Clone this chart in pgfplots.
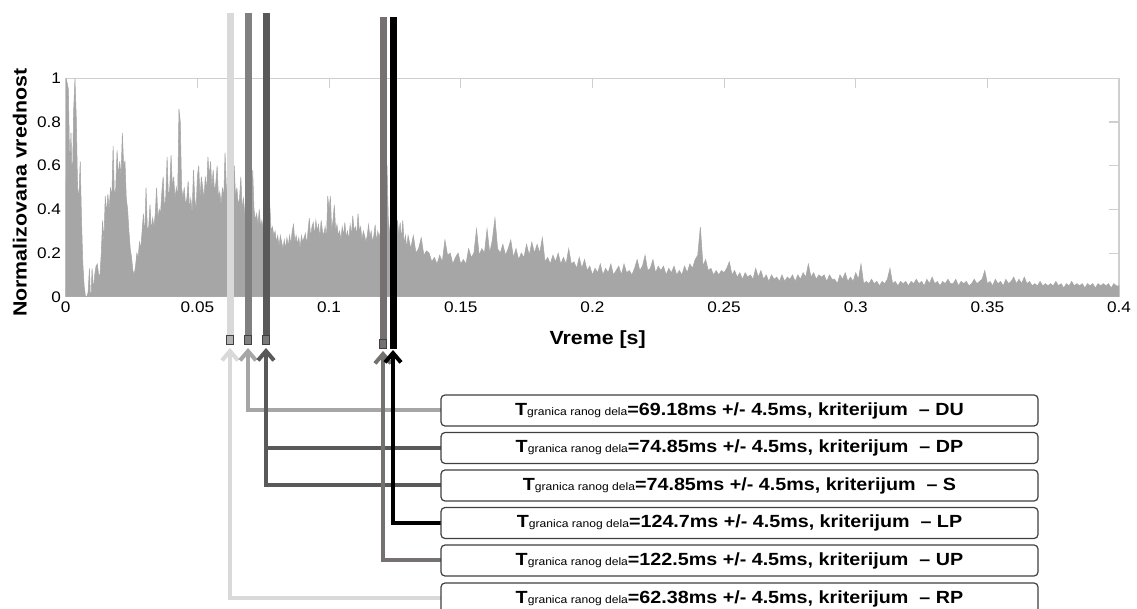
\documentclass[border=0pt]{standalone}
\usepackage{fontspec}
\setmainfont{Liberation Sans}[FakeStretch=1.12]
\usepackage{pgfplots}
\pgfplotsset{compat=1.18}
\usetikzlibrary{arrows.meta}
\definecolor{sig}{HTML}{A6A6A6}
\definecolor{frame}{HTML}{CFCFCF}
\definecolor{RPc}{HTML}{D9D9D9}
\definecolor{DUtop}{HTML}{808080}
\definecolor{DUc}{HTML}{A6A6A6}
\definecolor{DPc}{HTML}{595959}
\definecolor{UPc}{HTML}{767171}
\definecolor{boxc}{HTML}{404040}
\newcommand{\bt}[2]{{\bfseries\fontsize{13.2}{15}\selectfont T{\mdseries\fontsize{8.1}{9}\selectfont granica ranog dela}=#1ms +/- 4.5ms, kriterijum\ \ – #2}}
\begin{document}
\begin{tikzpicture}
\path[use as bounding box] (0,0) rectangle (852.75pt,456.75pt);
\begin{axis}[
  at={(49.3pt,234.2pt)}, anchor=south west,
  scale only axis, width=790pt, height=163.8pt,
  xmin=0, xmax=0.4, ymin=0, ymax=1,
  axis line style={draw=frame, line width=1pt},
  xtick={0,0.05,0.1,0.15,0.2,0.25,0.3,0.35,0.4},
  xticklabels={0,0.05,0.1,0.15,0.2,0.25,0.3,0.35,0.4},
  ytick={0,0.2,0.4,0.6,0.8,1},
  yticklabels={0,0.2,0.4,0.6,0.8,1},
  xtick pos=top, ytick pos=right,
  xticklabel pos=bottom, yticklabel pos=left,
  tick align=inside, major tick length=7.5pt,
  major tick style={draw=frame, line width=0.8pt},
  tick label style={font=\fontsize{11.5}{13}\selectfont},
  /pgf/number format/assume math mode=true,
  xlabel={Vreme [s]},
  ylabel={Normalizovana vrednost},
  label style={font=\bfseries\fontsize{14.3}{16}\selectfont},
  xlabel style={at={(axis description cs:0.505,-0.197)}, anchor=center},
  ylabel style={at={(axis description cs:-0.0437,0.476)}, anchor=center},
]
\addplot[draw=sig, fill=sig, line width=0.4pt] table {
x y
0 0
0.0002 1.0
0.001 0.95
0.0015 0.6
0.002 0.75
0.0025 0.5
0.003 0.85
0.0035 1.0
0.004 0.82
0.0045 0.5
0.005 0.45
0.0055 0.62
0.006 0.35
0.0065 0.15
0.007 0.05
0.0075 0.0
0.008 0.0
0.0085 0.02
0.009 0.13
0.0093 0.02
0.0097 0.02
0.010 0.13
0.0105 0.03
0.011 0.1
0.0115 0.14
0.012 0.15
0.0125 0.1
0.013 0.1
0.0135 0.2
0.014 0.35
0.0145 0.25
0.015 0.46
0.0155 0.38
0.016 0.47
0.0165 0.4
0.017 0.5
0.0175 0.45
0.018 0.69
0.0185 0.45
0.019 0.5
0.0195 0.67
0.020 0.55
0.0205 0.62
0.021 0.55
0.0215 0.75
0.022 0.6
0.0225 0.62
0.023 0.45
0.0235 0.4
0.024 0.3
0.0245 0.22
0.025 0.18
0.0255 0.12
0.026 0.1
0.0265 0.14
0.027 0.2
0.0275 0.18
0.028 0.25
0.0285 0.22
0.029 0.3
0.0295 0.38
0.030 0.28
0.0305 0.5
0.031 0.3
0.0315 0.32
0.032 0.42
0.0325 0.3
0.033 0.36
0.0335 0.32
0.034 0.38
0.0345 0.5
0.035 0.36
0.0355 0.4
0.036 0.38
0.0365 0.48
0.037 0.55
0.0375 0.4
0.038 0.46
0.0385 0.64
0.039 0.45
0.0395 0.5
0.040 0.65
0.0405 0.5
0.041 0.55
0.0415 0.45
0.042 0.5
0.0425 0.45
0.043 0.86
0.0435 0.8
0.044 0.5
0.0445 0.45
0.045 0.5
0.0455 0.42
0.046 0.45
0.0465 0.53
0.047 0.4
0.0475 0.45
0.048 0.38
0.0485 0.58
0.049 0.45
0.0495 0.4
0.050 0.55
0.0505 0.6
0.051 0.45
0.0515 0.55
0.052 0.5
0.0525 0.45
0.053 0.55
0.0535 0.48
0.054 0.64
0.0545 0.55
0.055 0.62
0.0555 0.5
0.056 0.58
0.0565 0.48
0.057 0.52
0.0575 0.6
0.058 0.45
0.0585 0.48
0.059 0.42
0.0595 0.5
0.060 0.45
0.0605 0.66
0.061 0.5
0.0615 0.45
0.062 0.55
0.0625 0.45
0.063 0.6
0.0635 0.47
0.064 0.6
0.0645 0.45
0.065 0.5
0.0655 0.42
0.066 0.45
0.0665 0.55
0.067 0.4
0.0675 0.45
0.068 0.38
0.0685 0.4
0.069 0.35
0.0695 0.5
0.070 0.38
0.0705 0.4
0.071 0.58
0.0715 0.4
0.072 0.35
0.0725 0.38
0.073 0.33
0.0735 0.4
0.074 0.32
0.0745 0.35
0.075 0.3
0.0755 0.38
0.076 0.3
0.0765 0.35
0.077 0.3
0.0775 0.42
0.078 0.3
0.0785 0.32
0.079 0.28
0.0795 0.3
0.080 0.25
0.0805 0.28
0.081 0.23
0.0815 0.28
0.082 0.25
0.0825 0.22
0.083 0.26
0.0835 0.22
0.084 0.27
0.0845 0.23
0.085 0.28
0.0855 0.24
0.086 0.3
0.0865 0.33
0.087 0.25
0.0875 0.28
0.088 0.24
0.0885 0.27
0.089 0.22
0.0895 0.28
0.090 0.25
0.0905 0.27
0.091 0.29
0.0915 0.24
0.092 0.3
0.0925 0.36
0.093 0.27
0.0935 0.32
0.094 0.34
0.0945 0.28
0.095 0.35
0.0955 0.3
0.096 0.33
0.0965 0.27
0.097 0.35
0.0975 0.3
0.098 0.28
0.0985 0.32
0.099 0.26
0.0995 0.46
0.100 0.4
0.1005 0.46
0.101 0.3
0.1015 0.35
0.102 0.42
0.1025 0.3
0.103 0.33
0.1035 0.28
0.104 0.3
0.1045 0.26
0.105 0.32
0.1055 0.28
0.106 0.34
0.1065 0.27
0.107 0.3
0.1075 0.26
0.108 0.33
0.1085 0.28
0.109 0.37
0.1095 0.3
0.110 0.32
0.1105 0.28
0.111 0.38
0.1115 0.3
0.112 0.32
0.1125 0.26
0.113 0.3
0.1135 0.28
0.114 0.25
0.1145 0.28
0.115 0.33
0.1155 0.27
0.116 0.3
0.1165 0.25
0.117 0.28
0.1175 0.33
0.118 0.25
0.1185 0.3
0.119 0.27
0.1195 0.3
0.120 0.26
0.1205 0.32
0.121 0.27
0.1215 0.3
0.122 0.6
0.1225 0.35
0.123 0.3
0.1235 0.28
0.124 0.3
0.1245 0.25
0.125 0.32
0.1255 0.27
0.126 0.35
0.1265 0.28
0.127 0.34
0.1275 0.26
0.128 0.35
0.1285 0.24
0.129 0.28
0.1295 0.22
0.130 0.28
0.131 0.22
0.132 0.28
0.133 0.2
0.134 0.22
0.135 0.27
0.136 0.19
0.137 0.21
0.138 0.2
0.139 0.16
0.140 0.18
0.141 0.15
0.142 0.19
0.143 0.16
0.144 0.26
0.145 0.19
0.146 0.2
0.147 0.15
0.148 0.18
0.149 0.2
0.150 0.15
0.151 0.17
0.152 0.15
0.153 0.22
0.154 0.18
0.155 0.2
0.156 0.31
0.157 0.19
0.158 0.22
0.159 0.2
0.160 0.31
0.161 0.2
0.162 0.26
0.163 0.36
0.164 0.22
0.165 0.2
0.166 0.24
0.167 0.19
0.168 0.22
0.169 0.26
0.170 0.18
0.171 0.22
0.172 0.17
0.173 0.2
0.174 0.18
0.175 0.24
0.176 0.19
0.177 0.25
0.178 0.2
0.179 0.24
0.180 0.2
0.181 0.27
0.182 0.16
0.183 0.18
0.184 0.15
0.185 0.19
0.186 0.16
0.187 0.2
0.188 0.15
0.189 0.18
0.190 0.15
0.191 0.22
0.192 0.15
0.193 0.16
0.194 0.13
0.195 0.18
0.196 0.13
0.197 0.17
0.198 0.12
0.199 0.14
0.200 0.1
0.201 0.13
0.202 0.11
0.203 0.15
0.204 0.1
0.205 0.13
0.206 0.11
0.207 0.15
0.208 0.1
0.209 0.12
0.210 0.14
0.211 0.1
0.212 0.15
0.213 0.11
0.214 0.12
0.215 0.1
0.216 0.13
0.217 0.17
0.218 0.12
0.219 0.14
0.220 0.19
0.221 0.12
0.222 0.13
0.223 0.17
0.224 0.11
0.225 0.14
0.226 0.12
0.227 0.14
0.228 0.1
0.229 0.13
0.230 0.11
0.231 0.14
0.232 0.1
0.233 0.12
0.234 0.1
0.235 0.14
0.236 0.11
0.237 0.15
0.238 0.13
0.239 0.17
0.240 0.19
0.241 0.32
0.242 0.14
0.243 0.17
0.244 0.12
0.245 0.13
0.246 0.1
0.247 0.12
0.248 0.1
0.249 0.12
0.250 0.11
0.251 0.13
0.252 0.16
0.253 0.1
0.254 0.12
0.255 0.09
0.256 0.11
0.257 0.08
0.258 0.11
0.259 0.09
0.260 0.1
0.261 0.08
0.262 0.13
0.263 0.09
0.264 0.12
0.265 0.08
0.266 0.1
0.267 0.07
0.268 0.1
0.269 0.08
0.270 0.09
0.271 0.07
0.272 0.1
0.273 0.07
0.274 0.09
0.275 0.08
0.276 0.1
0.277 0.07
0.278 0.1
0.279 0.08
0.280 0.11
0.281 0.09
0.282 0.15
0.283 0.09
0.284 0.11
0.285 0.08
0.286 0.1
0.287 0.09
0.288 0.1
0.289 0.07
0.290 0.1
0.291 0.08
0.292 0.08
0.293 0.06
0.294 0.1
0.295 0.08
0.296 0.11
0.297 0.07
0.298 0.09
0.299 0.07
0.300 0.11
0.301 0.08
0.302 0.15
0.303 0.06
0.304 0.07
0.305 0.06
0.306 0.08
0.307 0.06
0.308 0.07
0.309 0.05
0.310 0.07
0.311 0.06
0.312 0.08
0.313 0.13
0.314 0.06
0.315 0.07
0.316 0.05
0.317 0.07
0.318 0.06
0.319 0.07
0.320 0.05
0.321 0.07
0.322 0.06
0.323 0.08
0.324 0.06
0.325 0.07
0.326 0.05
0.327 0.08
0.328 0.06
0.329 0.09
0.330 0.06
0.331 0.07
0.332 0.05
0.333 0.07
0.334 0.06
0.335 0.08
0.336 0.06
0.337 0.06
0.338 0.08
0.339 0.05
0.340 0.07
0.341 0.06
0.342 0.07
0.343 0.05
0.344 0.06
0.345 0.08
0.346 0.06
0.347 0.07
0.348 0.08
0.349 0.12
0.350 0.06
0.351 0.07
0.352 0.05
0.353 0.08
0.354 0.06
0.355 0.07
0.356 0.05
0.357 0.08
0.358 0.06
0.359 0.07
0.360 0.09
0.361 0.06
0.362 0.08
0.363 0.06
0.364 0.09
0.365 0.06
0.366 0.07
0.367 0.05
0.368 0.06
0.369 0.05
0.370 0.07
0.371 0.05
0.372 0.06
0.373 0.05
0.374 0.06
0.375 0.05
0.376 0.07
0.377 0.05
0.378 0.06
0.379 0.04
0.380 0.06
0.381 0.05
0.382 0.07
0.383 0.05
0.384 0.06
0.385 0.05
0.386 0.06
0.387 0.04
0.388 0.06
0.389 0.05
0.390 0.06
0.391 0.04
0.392 0.06
0.393 0.05
0.394 0.06
0.395 0.05
0.396 0.06
0.397 0.04
0.398 0.06
0.399 0.05
0.400 0.05
} \closedcycle;
\end{axis}
\begin{scope}[x=0.75pt, y=-0.75pt, yshift=456.75pt]
  % vertical marker lines above
  \draw[line width=5.25pt, RPc] (230,13) -- (230,340);
  \draw[line width=5.25pt, DUtop] (248,13) -- (248,340);
  \draw[line width=5.25pt, DPc] (266,13) -- (266,340);
  \draw[line width=5.25pt, UPc] (383,17) -- (383,343);
  \draw[line width=5.25pt, black] (393,17) -- (393,349);
  \draw[fill=black!30, draw=boxc, line width=0.75pt] (226.5,336) rectangle (233.5,345);
  \draw[fill=DUtop, draw=boxc, line width=0.75pt] (244.5,336) rectangle (251.5,345);
  \draw[fill=DPc!80, draw=boxc, line width=0.75pt] (262.5,336) rectangle (269.5,345);
  \draw[fill=UPc, draw=boxc, line width=0.75pt] (379.5,340) rectangle (386.5,349);
  % connectors
  \tikzset{conn/.style={line width=3pt, -{Straight Barb[length=7pt,width=12pt]}}}
  \draw[conn, RPc] (441,598.5) -- (230,598.5) -- (230,348);
  \draw[conn, DUc] (441,410.5) -- (248,410.5) -- (248,348);
  \draw[conn, DPc] (441,448) -- (266,448) -- (266,348);
  \draw[line width=3pt, DPc] (441,485.5) -- (266,485.5) -- (266,448);
  \draw[conn, UPc] (441,560.5) -- (383,560.5) -- (383,351);
  \draw[conn, black] (441,523) -- (393,523) -- (393,350);
  % boxes
  \tikzset{bx/.style={draw=boxc, line width=0.9pt, rounded corners=3pt, fill=white, minimum width=447.75pt, minimum height=23.25pt, inner sep=0pt}}
  \node[bx] at (739.5,410.5) {\bt{69.18}{DU}};
  \node[bx] at (739.5,448) {\bt{74.85}{DP}};
  \node[bx] at (739.5,485.5) {\bt{74.85}{S}};
  \node[bx] at (739.5,523) {\bt{124.7}{LP}};
  \node[bx] at (739.5,560.5) {\bt{122.5}{UP}};
  \node[bx] at (739.5,598.5) {\bt{62.38}{RP}};
\end{scope}
\end{tikzpicture}
\end{document}
